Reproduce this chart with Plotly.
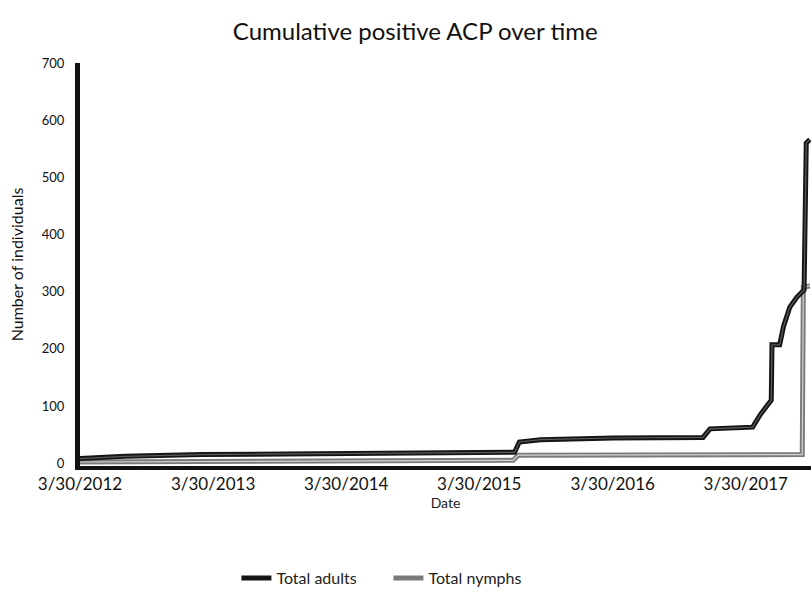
import plotly.graph_objects as go

# Cumulative counts of ACP-positive samples
adult_dates = [
    "2012-03-30", "2012-08-01", "2013-03-01", "2014-03-01", "2015-07-05",
    "2015-07-18", "2015-09-15", "2016-04-01", "2016-12-03", "2016-12-22",
    "2017-04-18", "2017-05-09", "2017-06-08", "2017-06-10", "2017-07-01",
    "2017-07-12", "2017-07-29", "2017-08-17", "2017-09-06", "2017-09-12",
    "2017-09-22",
]
adult_values = [
    8, 12, 15, 17, 19,
    37, 41, 44, 45, 60,
    63, 85, 110, 207, 207,
    240, 273, 290, 303, 560,
    566,
]

nymph_dates = [
    "2012-03-30", "2013-03-30", "2014-03-30", "2015-07-01", "2015-07-15",
    "2016-06-01", "2017-09-01", "2017-09-04", "2017-09-22",
]
nymph_values = [2, 3, 4, 5, 14, 14, 15, 308, 310]

tick_dates = ["2012-03-30", "2013-03-30", "2014-03-30",
              "2015-03-30", "2016-03-30", "2017-03-30"]
tick_labels = ["3/30/2012", "3/30/2013", "3/30/2014",
               "3/30/2015", "3/30/2016", "3/30/2017"]
y_ticks = [0, 100, 200, 300, 400, 500, 600, 700]

FONT = "Lato"

fig = go.Figure()

# Nymphs: grey compound line (outer stroke + light core)
fig.add_trace(go.Scatter(
    x=nymph_dates, y=nymph_values, mode="lines", name="Total nymphs",
    line=dict(color="#7a7a7a", width=5),
))
fig.add_trace(go.Scatter(
    x=nymph_dates, y=nymph_values, mode="lines", showlegend=False,
    hoverinfo="skip", line=dict(color="#d4d4d4", width=1.2),
))
# Adults: black compound line, drawn over the nymph line
fig.add_trace(go.Scatter(
    x=adult_dates, y=adult_values, mode="lines", name="Total adults",
    line=dict(color="#151515", width=5),
))
fig.add_trace(go.Scatter(
    x=adult_dates, y=adult_values, mode="lines", showlegend=False,
    hoverinfo="skip", line=dict(color="#5a5a5a", width=1.2),
))

fig.update_layout(
    width=811, height=596,
    margin=dict(l=80, r=0, t=63, b=130),
    paper_bgcolor="white", plot_bgcolor="white",
    font=dict(family=FONT, color="#111"),
    title=dict(
        text="Cumulative positive ACP over time",
        x=0.512, xanchor="center", y=1 - 32 / 596, yanchor="middle",
        font=dict(family=FONT, size=24, color="#111"),
    ),
    showlegend=True,
    legend=dict(
        orientation="h", x=0.214, xanchor="left", y=-0.278, yanchor="middle",
        font=dict(family=FONT, size=16, color="#222"),
        traceorder="reversed", entrywidth=107,
    ),
    xaxis=dict(
        type="date",
        range=["2012-03-30", "2017-09-25"],
        tickmode="array", tickvals=tick_dates, ticktext=tick_labels,
        tickfont=dict(family=FONT, size=17, color="#111"),
        showgrid=False, zeroline=False,
        showline=True, linecolor="#111", linewidth=4,
        ticks="",
        title=dict(text="Date", font=dict(family=FONT, size=14, color="#222"),
                   standoff=5),
    ),
    yaxis=dict(
        range=[-5, 700],
        tickmode="array", tickvals=y_ticks,
        tickfont=dict(family=FONT, size=13, color="#111"),
        showgrid=False, zeroline=False,
        showline=True, linecolor="#111", linewidth=5,
        ticks="", ticklabelstandoff=8,
        title=dict(text="Number of individuals",
                   font=dict(family=FONT, size=16, color="#111"), standoff=16),
    ),
)

fig.write_html("out.html")
